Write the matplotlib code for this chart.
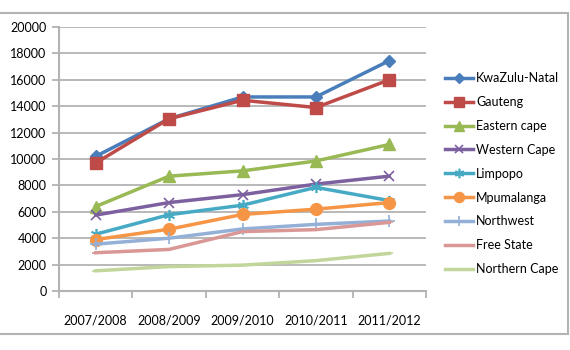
import matplotlib
matplotlib.use("Agg")
import matplotlib.pyplot as plt
from matplotlib.patches import Rectangle
from matplotlib.ticker import MultipleLocator, FixedLocator

years = ["2007/2008", "2008/2009", "2009/2010", "2010/2011", "2011/2012"]
kwazulu_natal = [10200, 13050, 14700, 14700, 17450]
gauteng = [9700, 13050, 14450, 13900, 16000]
eastern_cape = [6400, 8700, 9100, 9850, 11100]
western_cape = [5750, 6700, 7300, 8100, 8700]
limpopo = [4300, 5780, 6500, 7850, 6850]
mpumalanga = [3900, 4680, 5800, 6200, 6700]
northwest = [3550, 4000, 4700, 5050, 5300]
free_state = [2900, 3150, 4500, 4650, 5200]
northern_cape = [1530, 1850, 1960, 2300, 2850]

series = [
    ("KwaZulu-Natal", kwazulu_natal, "#4A7EBB", "D", 6.5),
    ("Gauteng", gauteng, "#BE4B48", "s", 8),
    ("Eastern cape", eastern_cape, "#98B954", "^", 8),
    ("Western Cape", western_cape, "#7D60A0", "x", 7),
    ("Limpopo", limpopo, "#46AAC5", (6, 2, 0), 8),
    ("Mpumalanga", mpumalanga, "#F69545", "o", 8.5),
    ("Northwest", northwest, "#94B0D7", "+", 8),
    ("Free State", free_state, "#D99795", "_", 6),
    ("Northern Cape", northern_cape, "#C2D69B", "_", 6),
]

plt.rcParams['font.family'] = ['Lato', 'DejaVu Sans']
plt.rcParams['text.color'] = 'black'
fig = plt.figure(figsize=(5.7, 3.5), dpi=100)
fig.patch.set_facecolor("white")
ax = fig.add_axes([59/570, 1-291/350, (426-59)/570, (291-27)/350])

x = list(range(len(years)))
handles = []
for name, vals, col, mk, ms in series:
    mew = 1.2 if mk in ("x", "+", "_") or isinstance(mk, tuple) else 1.0
    h, = ax.plot(x, vals, color=col, lw=2.5, marker=mk, markersize=ms,
                 markeredgewidth=mew, markerfacecolor=col, markeredgecolor=col,
                 label=name, zorder=3, solid_joinstyle="round")
    handles.append(h)

ax.set_xlim(-0.5, 4.5)
ax.set_ylim(0, 20000)
ax.yaxis.set_major_locator(MultipleLocator(2000))
ax.set_xticks(x)
ax.set_xticklabels(years, fontsize=9)
ax.xaxis.set_minor_locator(FixedLocator([-0.5, 0.5, 1.5, 2.5, 3.5, 4.5]))
ax.tick_params(axis="x", which="major", length=0, pad=17, labelcolor="black")
ax.tick_params(axis="x", which="minor", length=5, width=1.3, color="#b3b3b3", direction="out")
ax.tick_params(axis="y", length=5, width=1.3, color="#b3b3b3", direction="out", pad=4,
               labelsize=9, labelcolor="black")
ax.grid(axis="y", color="#b3b3b3", lw=1.3, zorder=0)
ax.set_axisbelow(True)
for s in ["top", "right"]:
    ax.spines[s].set_visible(False)
for s in ["left", "bottom"]:
    ax.spines[s].set_color("#b3b3b3")
    ax.spines[s].set_linewidth(1.5)

fig.legend(handles=handles, loc="center left", bbox_to_anchor=(445/570, 1-173.7/350),
           frameon=False, fontsize=9, handlelength=2.2, handletextpad=0.3,
           labelspacing=0.95, borderpad=0, borderaxespad=0, markerscale=0.85)

fig.add_artist(Rectangle((-5/570, 1-334/350), 573/570, (334-13)/350,
                         transform=fig.transFigure, fill=False,
                         edgecolor="#b3b3b3", lw=1.5))

fig.savefig("out.png", dpi=100)
